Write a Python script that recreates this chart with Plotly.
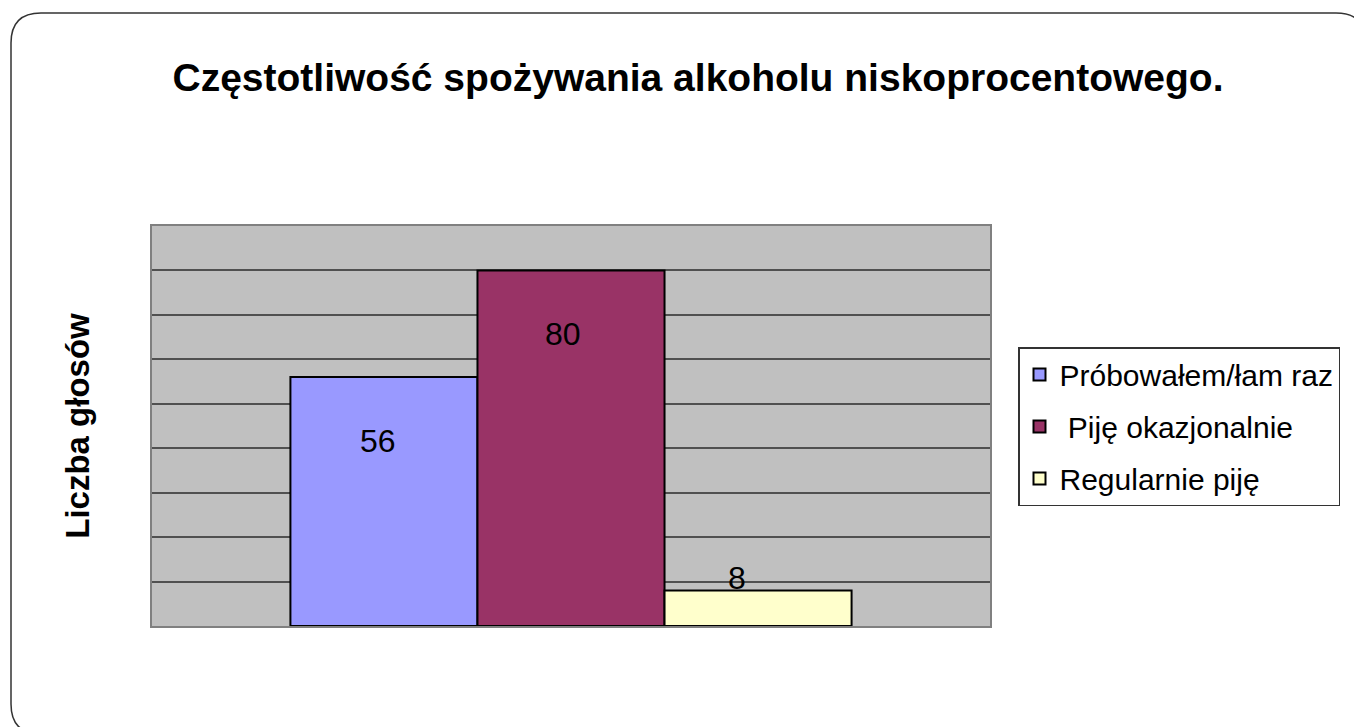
import plotly.graph_objects as go

# data
series = ["Próbowałem/łam raz", " Piję okazjonalnie", "Regularnie piję"]
votes = [56, 80, 8]
colors = ["#9999FF", "#993366", "#FFFFCC"]
grid_ticks = [0, 10, 20, 30, 40, 50, 60, 70, 80, 90]

W, H = 1362, 727
OFF = 8  # page body margin
L, R, T, B = 152 - OFF, 990 - OFF, 226 - OFF, 626 - OFF   # plot area in pixels

fig = go.Figure()
for i, (name, v, c) in enumerate(zip(series, votes, colors)):
    fig.add_trace(go.Bar(
        x=[i], y=[v], name=name, width=1,
        marker=dict(color=c, line=dict(color="black", width=2)),
        legendgroup=name,
    ))

# value labels (nudged like the original)
label_dx = [-6, -8, -21]
for i, v in enumerate(votes):
    fig.add_annotation(
        x=i, y=v, text=str(v), showarrow=False,
        xshift=label_dx[i], yshift=-64 if v > 20 else 12,
        font=dict(size=32, color="black", family="Liberation Sans, Arial"),
    )

# rounded outer frame, drawn in pixels and converted to paper coords
def px(x):
    return (x - L) / (R - L)

def py(y):
    return (B - y) / (B - T)

x0, y0, x1, y1, r = 11 - OFF, 13 - OFF, 1366 - OFF, 734 - OFF, 30
path = (
    f"M {px(x0 + r)} {py(y0)} L {px(x1 - r)} {py(y0)} "
    f"Q {px(x1)} {py(y0)} {px(x1)} {py(y0 + r)} "
    f"L {px(x1)} {py(y1 - r)} Q {px(x1)} {py(y1)} {px(x1 - r)} {py(y1)} "
    f"L {px(x0 + r)} {py(y1)} Q {px(x0)} {py(y1)} {px(x0)} {py(y1 - r)} "
    f"L {px(x0)} {py(y0 + r)} Q {px(x0)} {py(y0)} {px(x0 + r)} {py(y0)} Z"
)
fig.add_shape(type="path", xref="paper", yref="paper", path=path,
              line=dict(color="#333333", width=1.5), layer="below")

fig.update_layout(
    width=W, height=H,
    margin=dict(l=L, r=W - R, t=T, b=H - B),
    paper_bgcolor="white",
    plot_bgcolor="#C0C0C0",
    font=dict(family="Liberation Sans, Arial", color="black"),
    title=dict(
        text="<b>Częstotliwość spożywania alkoholu niskoprocentowego.</b>",
        x=(698 - OFF) / W, xanchor="center", y=1 - (77 - OFF) / H, yanchor="middle",
        font=dict(size=39, color="black"),
    ),
    barmode="group",
    showlegend=True,
    legend=dict(
        x=px(1018 - OFF), y=py(347 - OFF), xanchor="left", yanchor="top",
        bgcolor="white", bordercolor="#333333", borderwidth=1.5,
        font=dict(size=30, color="black"),
        traceorder="grouped", tracegroupgap=10,
    ),
)
fig.update_xaxes(range=[-1.24, 3.24], showticklabels=False, showgrid=False,
                 zeroline=False, showline=True, linecolor="#808080", linewidth=2,
                 mirror=True, fixedrange=True)
fig.update_yaxes(range=[0, 90], tickvals=grid_ticks, showticklabels=False,
                 showgrid=True, gridcolor="#505050", gridwidth=2,
                 zeroline=False, showline=True, linecolor="#808080", linewidth=2,
                 mirror=True, ticks="",
                 title=dict(text="<b>Liczba głosów</b>", standoff=50,
                            font=dict(size=33, color="black")))

fig.write_html("out.html")
